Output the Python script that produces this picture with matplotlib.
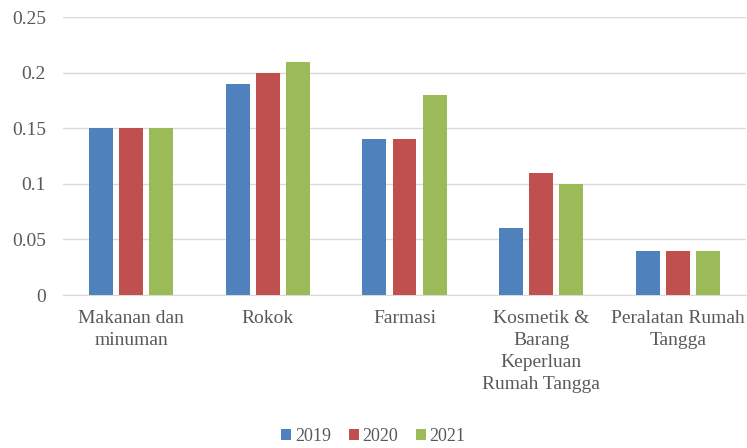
import numpy as np
import matplotlib
matplotlib.use("Agg")
import matplotlib.pyplot as plt

categories = ["Makanan dan\nminuman", "Rokok", "Farmasi",
              "Kosmetik &\nBarang\nKeperluan\nRumah Tangga", "Peralatan Rumah\nTangga"]
years = ["2019", "2020", "2021"]
v2019 = [0.15, 0.19, 0.14, 0.06, 0.04]
v2020 = [0.15, 0.20, 0.14, 0.11, 0.04]
v2021 = [0.15, 0.21, 0.18, 0.10, 0.04]
colors = ["#4F81BD", "#C0504D", "#9BBB59"]

plt.rcParams['font.family'] = ['Liberation Serif', 'DejaVu Serif']
text_col = "#595959"

fig = plt.figure(figsize=(7.47, 4.48), dpi=100)
ax = fig.add_axes([0.084, 0.3415, 0.915, 0.6205])

x = np.arange(len(categories))
width = 0.175
step = 0.22
for i, (vals, lab) in enumerate(zip([v2019, v2020, v2021], years)):
    ax.bar(x + (i - 1) * step, vals, width, color=colors[i], label=lab, zorder=3)

ax.set_xlim(-0.5, len(categories) - 0.5)
ax.set_ylim(0, 0.25)
ax.set_yticks([0, 0.05, 0.1, 0.15, 0.2, 0.25])
ax.set_yticklabels(["0", "0.05", "0.1", "0.15", "0.2", "0.25"])
ax.set_xticks(x)
ax.set_xticklabels(categories, linespacing=1.38)
ax.tick_params(axis='both', length=0, colors=text_col, labelsize=14)
ax.tick_params(axis='x', pad=11)
ax.tick_params(axis='y', pad=12)
ax.grid(axis='y', color="#D9D9D9", linewidth=1, zorder=0)
for s in ["top", "right", "left"]:
    ax.spines[s].set_visible(False)
ax.spines["bottom"].set_color("#D9D9D9")

leg = fig.legend(loc="lower center", bbox_to_anchor=(0.5, -0.03), ncol=3, frameon=False,
                 fontsize=13, handlelength=0.55, handleheight=0.55, handletextpad=0.2,
                 columnspacing=1.0)
for t in leg.get_texts():
    t.set_color(text_col)

fig.savefig("out.png", dpi=100)
